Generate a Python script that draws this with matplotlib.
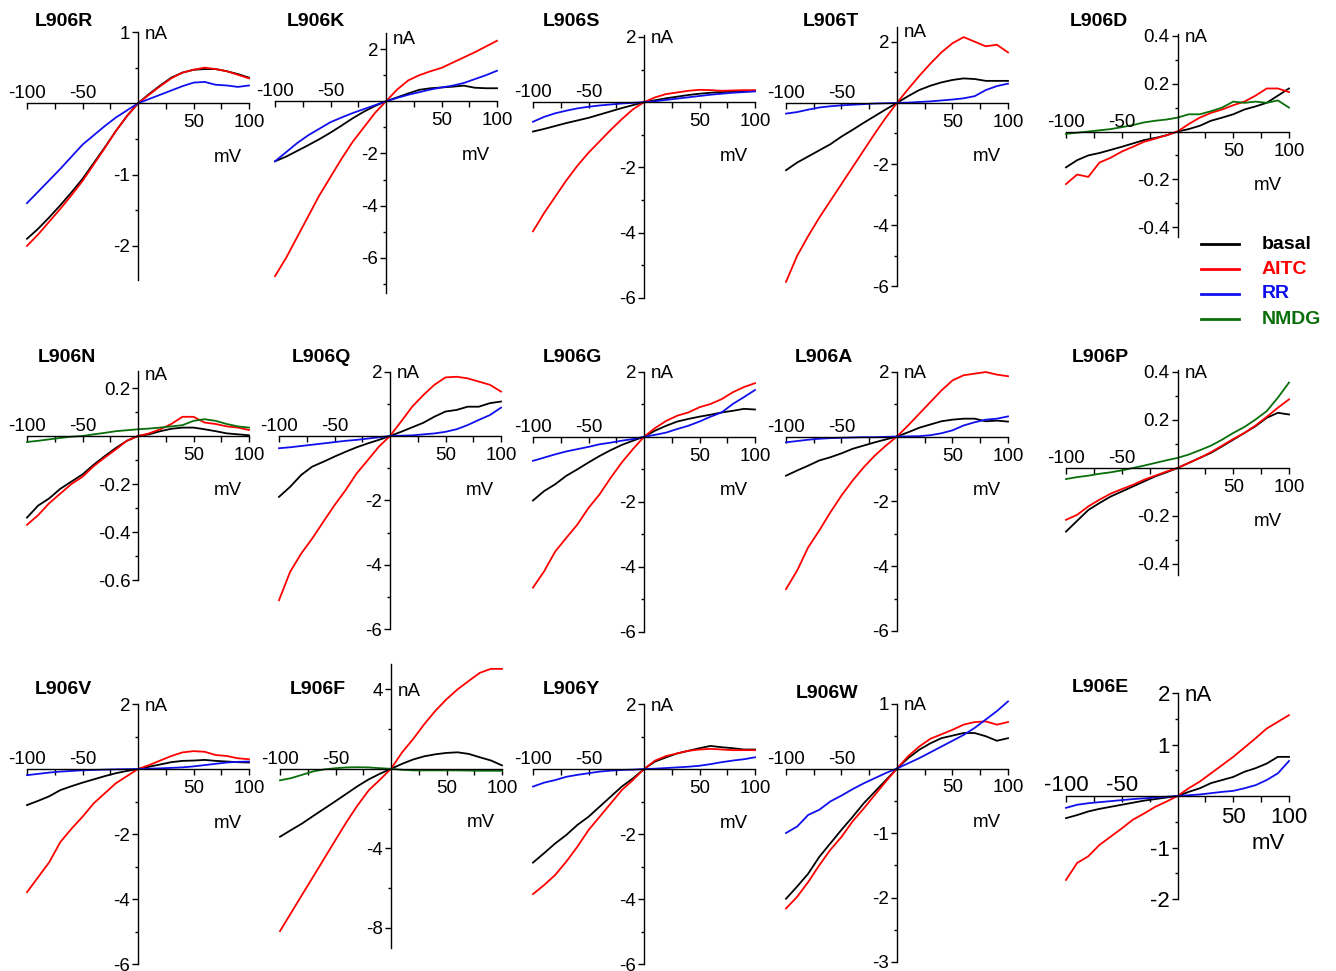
import matplotlib
matplotlib.use("Agg")
import matplotlib.pyplot as plt
from matplotlib.lines import Line2D

plt.rcParams['font.family'] = ['Liberation Sans', 'DejaVu Sans']
plt.rcParams['axes.unicode_minus'] = False

# ---------------- data (mV grid and currents in nA) ----------------
V = [-100, -90, -80, -70, -60, -50, -40, -30, -20, -10, 0,
     10, 20, 30, 40, 50, 60, 70, 80, 90, 100]

R_basal = [-1.90,-1.76,-1.60,-1.43,-1.25,-1.06,-0.84,-0.62,-0.39,-0.18,0,0.13,0.25,0.36,0.43,0.47,0.48,0.48,0.45,0.41,0.36]
R_aitc  = [-2.00,-1.84,-1.66,-1.48,-1.29,-1.09,-0.86,-0.63,-0.39,-0.18,0,0.12,0.24,0.35,0.43,0.47,0.50,0.48,0.45,0.40,0.35]
R_rr    = [-1.40,-1.24,-1.08,-0.92,-0.75,-0.58,-0.45,-0.32,-0.20,-0.10,0,0.06,0.12,0.18,0.24,0.29,0.30,0.26,0.25,0.23,0.25]

K_basal = [-2.30,-2.12,-1.90,-1.68,-1.45,-1.20,-0.93,-0.65,-0.40,-0.18,0,0.15,0.30,0.44,0.50,0.53,0.56,0.60,0.52,0.50,0.50]
K_aitc  = [-6.70,-6.00,-5.20,-4.40,-3.60,-2.90,-2.20,-1.55,-1.00,-0.45,0,0.45,0.80,1.00,1.15,1.28,1.48,1.68,1.88,2.10,2.32]
K_rr    = [-2.30,-1.95,-1.60,-1.30,-1.05,-0.80,-0.62,-0.45,-0.30,-0.15,0,0.13,0.25,0.35,0.45,0.53,0.60,0.70,0.85,1.00,1.17]

S_basal = [-0.90,-0.82,-0.73,-0.64,-0.56,-0.48,-0.38,-0.28,-0.18,-0.09,0,0.06,0.12,0.17,0.22,0.26,0.29,0.31,0.33,0.34,0.35]
S_aitc  = [-3.96,-3.40,-2.90,-2.40,-1.95,-1.55,-1.20,-0.85,-0.52,-0.22,0,0.15,0.25,0.30,0.35,0.38,0.37,0.35,0.36,0.37,0.37]
S_rr    = [-0.60,-0.45,-0.34,-0.26,-0.19,-0.14,-0.10,-0.07,-0.04,-0.02,0,0.03,0.07,0.11,0.15,0.19,0.23,0.26,0.29,0.31,0.33]

T_basal = [-2.20,-1.95,-1.75,-1.55,-1.35,-1.10,-0.88,-0.65,-0.43,-0.21,0,0.22,0.42,0.56,0.67,0.75,0.80,0.78,0.72,0.72,0.72]
T_aitc  = [-5.85,-5.00,-4.35,-3.75,-3.20,-2.65,-2.10,-1.55,-1.00,-0.48,0,0.45,0.88,1.28,1.65,1.95,2.15,2.00,1.85,1.90,1.65]
T_rr    = [-0.35,-0.30,-0.22,-0.15,-0.11,-0.08,-0.06,-0.04,-0.02,-0.01,0,0.01,0.03,0.05,0.08,0.11,0.15,0.22,0.42,0.55,0.63]

D_basal = [-0.15,-0.12,-0.10,-0.09,-0.077,-0.064,-0.05,-0.036,-0.027,-0.016,0,0.01,0.024,0.045,0.058,0.072,0.092,0.105,0.12,0.15,0.18]
D_aitc  = [-0.22,-0.18,-0.19,-0.13,-0.11,-0.084,-0.064,-0.043,-0.03,-0.016,0,0.031,0.058,0.078,0.092,0.11,0.125,0.15,0.18,0.18,0.165]
D_nmdg  = [-0.01,-0.005,0,0.005,0.01,0.018,0.027,0.038,0.045,0.05,0.058,0.072,0.072,0.085,0.10,0.125,0.12,0.125,0.12,0.13,0.10]

N_basal = [-0.34,-0.29,-0.26,-0.22,-0.19,-0.16,-0.12,-0.084,-0.05,-0.02,0,0.007,0.02,0.03,0.035,0.035,0.028,0.02,0.011,0.007,0.003]
N_aitc  = [-0.37,-0.33,-0.28,-0.24,-0.20,-0.17,-0.126,-0.09,-0.056,-0.02,0,0.011,0.028,0.05,0.08,0.08,0.056,0.05,0.04,0.035,0.025]
N_nmdg  = [-0.025,-0.02,-0.014,-0.008,-0.003,0,0.007,0.013,0.02,0.024,0.028,0.031,0.035,0.04,0.045,0.063,0.07,0.063,0.05,0.04,0.035]

Q_basal = [-1.89,-1.58,-1.21,-0.95,-0.80,-0.64,-0.49,-0.35,-0.23,-0.12,0,0.13,0.27,0.41,0.60,0.76,0.81,0.91,0.91,1.02,1.07]
Q_aitc  = [-5.10,-4.22,-3.65,-3.18,-2.66,-2.15,-1.68,-1.16,-0.75,-0.33,0,0.45,0.91,1.27,1.59,1.82,1.84,1.79,1.69,1.59,1.38]
Q_rr    = [-0.38,-0.35,-0.31,-0.27,-0.23,-0.19,-0.15,-0.12,-0.08,-0.04,0,0.01,0.02,0.05,0.08,0.13,0.21,0.34,0.50,0.65,0.88]

G_basal = [-1.96,-1.67,-1.46,-1.20,-1.00,-0.79,-0.59,-0.41,-0.25,-0.12,0,0.19,0.34,0.47,0.55,0.62,0.68,0.75,0.80,0.86,0.84]
G_aitc  = [-4.64,-4.14,-3.53,-3.11,-2.70,-2.19,-1.77,-1.26,-0.79,-0.38,0,0.27,0.49,0.65,0.75,0.91,1.01,1.16,1.37,1.53,1.65]
G_rr    = [-0.74,-0.64,-0.54,-0.45,-0.38,-0.31,-0.23,-0.18,-0.12,-0.07,0,0.06,0.13,0.24,0.34,0.47,0.62,0.75,1.01,1.22,1.44]

A_basal = [-1.21,-1.05,-0.90,-0.74,-0.64,-0.52,-0.38,-0.28,-0.18,-0.09,0,0.13,0.27,0.37,0.47,0.52,0.55,0.55,0.47,0.49,0.46]
A_aitc  = [-4.71,-4.14,-3.42,-2.90,-2.34,-1.82,-1.36,-0.95,-0.59,-0.28,0,0.34,0.70,1.06,1.42,1.73,1.89,1.94,1.99,1.91,1.86]
A_rr    = [-0.18,-0.14,-0.10,-0.07,-0.05,-0.04,-0.03,-0.02,-0.02,-0.01,0,0.005,0.01,0.04,0.10,0.19,0.34,0.44,0.52,0.55,0.62]

P_basal = [-0.265,-0.22,-0.175,-0.146,-0.119,-0.098,-0.077,-0.056,-0.035,-0.018,0,0.021,0.042,0.063,0.09,0.118,0.146,0.174,0.209,0.23,0.223]
P_aitc  = [-0.216,-0.195,-0.16,-0.132,-0.107,-0.088,-0.07,-0.049,-0.032,-0.015,0,0.021,0.042,0.066,0.093,0.121,0.146,0.177,0.213,0.251,0.286]
P_nmdg  = [-0.046,-0.038,-0.032,-0.024,-0.018,-0.01,0,0.01,0.021,0.032,0.042,0.056,0.074,0.093,0.118,0.146,0.171,0.202,0.237,0.293,0.356]

V_basal = [-1.11,-0.98,-0.84,-0.65,-0.53,-0.42,-0.32,-0.22,-0.13,-0.06,0,0.07,0.14,0.21,0.25,0.26,0.28,0.25,0.23,0.21,0.20]
V_aitc  = [-3.79,-3.33,-2.87,-2.25,-1.84,-1.47,-1.06,-0.75,-0.44,-0.22,0,0.12,0.26,0.40,0.51,0.55,0.53,0.43,0.40,0.33,0.30]
V_rr    = [-0.19,-0.15,-0.11,-0.08,-0.06,-0.04,-0.03,-0.02,-0.01,-0.005,0,0.01,0.02,0.035,0.05,0.08,0.12,0.16,0.20,0.22,0.23]

F_basal = [-3.42,-3.08,-2.75,-2.37,-2.00,-1.63,-1.25,-0.87,-0.53,-0.25,0,0.25,0.47,0.63,0.73,0.80,0.83,0.75,0.58,0.42,0.17]
F_aitc  = [-8.17,-7.25,-6.33,-5.42,-4.50,-3.58,-2.67,-1.83,-1.08,-0.55,0,0.83,1.50,2.25,2.92,3.50,4.00,4.42,4.83,5.03,5.03]
F_nmdg  = [-0.58,-0.47,-0.30,-0.13,-0.03,0.03,0.07,0.08,0.07,0.03,0,-0.05,-0.08,-0.08,-0.08,-0.08,-0.08,-0.09,-0.10,-0.10,-0.10]

Y_basal = [-2.88,-2.59,-2.29,-2.03,-1.72,-1.47,-1.16,-0.85,-0.54,-0.29,0,0.23,0.36,0.48,0.56,0.64,0.71,0.67,0.64,0.60,0.60]
Y_aitc  = [-3.85,-3.57,-3.26,-2.85,-2.39,-1.88,-1.47,-1.06,-0.65,-0.34,0,0.26,0.40,0.48,0.56,0.60,0.62,0.60,0.58,0.58,0.58]
Y_rr    = [-0.54,-0.42,-0.34,-0.24,-0.18,-0.13,-0.08,-0.05,-0.03,-0.02,0,0.01,0.03,0.05,0.07,0.10,0.15,0.21,0.26,0.30,0.36]

W_basal = [-2.02,-1.83,-1.63,-1.37,-1.16,-0.95,-0.75,-0.54,-0.36,-0.18,0,0.16,0.29,0.39,0.47,0.51,0.55,0.55,0.50,0.43,0.47]
W_aitc  = [-2.17,-1.99,-1.76,-1.50,-1.26,-1.06,-0.82,-0.62,-0.41,-0.20,0,0.19,0.34,0.46,0.53,0.60,0.68,0.72,0.73,0.68,0.72]
W_rr    = [-1.00,-0.90,-0.72,-0.64,-0.51,-0.42,-0.32,-0.23,-0.15,-0.07,0,0.08,0.16,0.25,0.34,0.43,0.52,0.63,0.76,0.89,1.04]

E_basal = [-0.43,-0.37,-0.30,-0.25,-0.21,-0.17,-0.13,-0.09,-0.06,-0.03,0,0.08,0.15,0.25,0.31,0.37,0.47,0.54,0.63,0.76,0.76]
E_aitc  = [-1.63,-1.30,-1.17,-0.95,-0.79,-0.63,-0.46,-0.34,-0.21,-0.11,0,0.15,0.28,0.44,0.60,0.76,0.94,1.12,1.31,1.44,1.57]
E_rr    = [-0.23,-0.17,-0.14,-0.12,-0.10,-0.08,-0.06,-0.045,-0.03,-0.015,0,0.015,0.03,0.055,0.08,0.10,0.15,0.21,0.31,0.44,0.68]

legend_labels = ['basal', 'AITC', 'RR', 'NMDG']
colors = {'basal': '#000000', 'AITC': '#ff0000', 'RR': '#1010ee', 'NMDG': '#0a6e0a'}

traces = {
    'L906R': {'basal': R_basal, 'AITC': R_aitc, 'RR': R_rr},
    'L906K': {'basal': K_basal, 'AITC': K_aitc, 'RR': K_rr},
    'L906S': {'basal': S_basal, 'AITC': S_aitc, 'RR': S_rr},
    'L906T': {'basal': T_basal, 'AITC': T_aitc, 'RR': T_rr},
    'L906D': {'basal': D_basal, 'AITC': D_aitc, 'NMDG': D_nmdg},
    'L906N': {'basal': N_basal, 'AITC': N_aitc, 'NMDG': N_nmdg},
    'L906Q': {'basal': Q_basal, 'AITC': Q_aitc, 'RR': Q_rr},
    'L906G': {'basal': G_basal, 'AITC': G_aitc, 'RR': G_rr},
    'L906A': {'basal': A_basal, 'AITC': A_aitc, 'RR': A_rr},
    'L906P': {'basal': P_basal, 'AITC': P_aitc, 'NMDG': P_nmdg},
    'L906V': {'basal': V_basal, 'AITC': V_aitc, 'RR': V_rr},
    'L906F': {'basal': F_basal, 'AITC': F_aitc, 'NMDG': F_nmdg},
    'L906Y': {'basal': Y_basal, 'AITC': Y_aitc, 'RR': Y_rr},
    'L906W': {'basal': W_basal, 'AITC': W_aitc, 'RR': W_rr},
    'L906E': {'basal': E_basal, 'AITC': E_aitc, 'RR': E_rr},
}

# ---------------- layout (pixels of the 1336x971 canvas) ----------------
W, H = 1336, 971
M6 = [2, -2, -4, -6]
m6 = [1, -1, -3, -5]
layout = {
    # name: (x_px(-100), x_px(100), y_px(0), px per nA, ytop, ybot, majors, minors, title_x, title_y, nA_at)
    'L906R': (27, 249, 103.3, 71.3, 1.0, -2.48, [1, -1, -2], [0.5, -0.5, -1.5], 35, 22, 1.0),
    'L906K': (275, 497, 101.3, 26.1, 2.62, -7.35, M6, [1, -1, -3, -5, -7], 287, 22, 2.45),
    'L906S': (533, 755, 102.2, 32.6, 2.06, -6.0, M6, m6, 543, 22, 2.0),
    'L906T': (786, 1008, 102.9, 30.6, 2.49, -6.0, M6, m6, 803, 22, 2.35),
    'L906D': (1066, 1289, 131.5, 239.0, 0.41, -0.44, [0.4, 0.2, -0.2, -0.4], [0.3, 0.1, -0.1, -0.3], 1070, 22, 0.4),
    'L906N': (27, 249, 436.0, 240.0, 0.27, -0.6, [0.2, -0.2, -0.4, -0.6], [0.1, -0.1, -0.3, -0.5], 38, 358, 0.26),
    'L906Q': (279, 501, 436.0, 32.2, 2.0, -6.0, M6, m6, 292, 357, 2.0),
    'L906G': (533, 755, 436.8, 32.5, 2.0, -6.0, M6, m6, 543, 357, 2.0),
    'L906A': (786, 1008, 436.5, 32.4, 2.0, -6.0, M6, m6, 795, 357, 2.0),
    'L906P': (1066, 1289, 468.0, 240.0, 0.41, -0.445, [0.4, 0.2, -0.2, -0.4], [0.3, 0.1, -0.1, -0.3], 1072, 357, 0.4),
    'L906V': (27, 249, 769.0, 32.5, 2.0, -6.0, M6, m6, 35, 690, 2.0),
    'L906F': (280, 502, 768.8, 19.87, 5.28, -9.02, [4, -4, -8], [2, -2, -6], 290, 690, 4.0),
    'L906Y': (533, 755, 769.0, 32.5, 2.0, -6.0, M6, m6, 543, 690, 2.0),
    'L906W': (786, 1008, 768.5, 64.5, 1.0, -3.0, [1, -1, -2, -3], [0.5, -0.5, -1.5, -2.5], 796, 694, 1.0),
    'L906E': (1066, 1289, 796.0, 51.5, 2.0, -2.0, [2, 1, -1, -2], [1.5, 0.5, -0.5, -1.5], 1072, 688, 2.0),
}

fig = plt.figure(figsize=(W / 100, H / 100), dpi=100)

for name, (xl, xr, y0, s, ytop, ybot, majors, minors, tx, ty, na_y) in layout.items():
    top_px = y0 - ytop * s
    bot_px = y0 - ybot * s
    ax = fig.add_axes([xl / W, 1 - bot_px / H, (xr - xl) / W, (bot_px - top_px) / H])
    ax.set_xlim(-100, 100)
    ax.set_ylim(ybot, ytop)
    ax.patch.set_visible(False)
    for sp in ('top', 'right'):
        ax.spines[sp].set_visible(False)
    ax.spines['left'].set_position(('data', 0))
    ax.spines['bottom'].set_position(('data', 0))
    for sp in ('left', 'bottom'):
        ax.spines[sp].set_linewidth(1.0)
    big = (name == 'L906E')
    fs = 16 if big else 13.5

    ax.set_xticks([-100, -75, -50, -25, 25, 50, 75, 100])
    ax.set_xticklabels([])
    ax.tick_params(axis='x', direction='out', length=4, width=1.0)
    ax.set_yticks(majors)
    ax.set_yticklabels([f"{v:g}" for v in majors])
    ax.set_yticks(minors, minor=True)
    ax.tick_params(axis='y', which='major', direction='out', length=4, width=1.0,
                   pad=1.5, labelsize=fs)
    ax.tick_params(axis='y', which='minor', direction='out', length=2.5, width=1.0)

    for v in (-100, -50):
        ax.annotate(f"{v}", xy=(v, 0), xytext=(0, 5), textcoords='offset pixels',
                    ha='center', va='baseline', fontsize=fs)
    for v in (50, 100):
        ax.annotate(f"{v}", xy=(v, 0), xytext=(0, -11), textcoords='offset pixels',
                    ha='center', va='top', fontsize=fs)
    ax.annotate('mV', xy=(100, 0), xytext=(-21, -47 if big else -54), textcoords='offset pixels',
                ha='center', va='center', fontsize=fs)
    ax.annotate('nA', xy=(0, na_y), xytext=(7, -2), textcoords='offset pixels',
                ha='left', va='center', fontsize=fs)

    for lab in legend_labels:
        if lab in traces[name]:
            ax.plot(V, traces[name][lab], color=colors[lab], lw=1.3, clip_on=False,
                    solid_joinstyle='round')

    fig.text(tx / W, 1 - ty / H, name, fontsize=14, fontweight='bold',
             ha='left', va='center')

# legend
for i, lab in enumerate(legend_labels):
    yy = 1 - (244 + 25 * i) / H
    fig.add_artist(Line2D([1201 / W, 1239 / W], [yy, yy], color=colors[lab], lw=2.0,
                          transform=fig.transFigure))
    fig.text(1262 / W, yy, lab, color=colors[lab], fontsize=14, fontweight='bold',
             ha='left', va='center')

fig.savefig('out.png', dpi=100)
